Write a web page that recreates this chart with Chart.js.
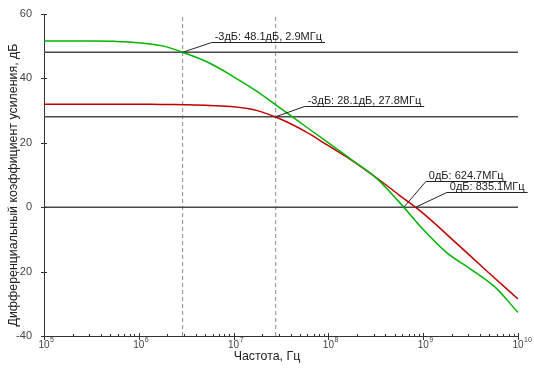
<!DOCTYPE html>
<html>
<head>
<meta charset="utf-8">
<script src="https://cdn.jsdelivr.net/npm/chart.js@4"></script>
<style>
  html, body { margin: 0; padding: 0; background: #fff; }
  #wrap { width: 534px; height: 374px; }
</style>
</head>
<body>
<div id="wrap"><canvas id="gain-chart" width="534" height="374"></canvas></div>
<script>
// Frequency points (Hz)
const freqHz = [1e5, 3.16e5, 5.62e5, 1e6, 1.78e6, 3.16e6, 5.62e6, 1e7, 1.78e7, 3.16e7, 5.62e7,
                1e8, 1.78e8, 3.16e8, 5.62e8, 1e9, 1.78e9, 3.16e9, 5.62e9, 1e10];
// Gain, dB (green curve)
const gainGreen = [51.6, 51.6, 51.5, 51.1, 50.1, 47.7, 44.7, 40.5, 35.9, 30.6, 25.3,
                   20.0, 14.6, 9.2, 1.5, -6.9, -14.2, -19.2, -24.6, -32.7];
// Gain, dB (red curve)
const gainRed = [32.0, 32.0, 32.0, 32.0, 31.9, 31.8, 31.6, 31.2, 30.0, 27.3, 23.6,
                 19.1, 14.5, 9.3, 3.7, -1.9, -8.5, -15.2, -21.9, -28.5];

// Horizontal reference levels, dB
const refLevels = [48.1, 28.1, 0];
// Marker points
const markerFreqs = [2.9e6, 27.8e6, 624.7e6, 835.1e6];
const markerGains = [48.1, 28.1, 0, 0];
const markerLabels = ['-3дБ: 48.1дБ, 2.9МГц', '-3дБ: 28.1дБ, 27.8МГц', '0дБ: 624.7МГц', '0дБ: 835.1МГц'];
const markerHasCursor = [true, true, false, false];

// Axis range and tick labels
const xMin = 1e5, xMax = 1e10;
const yMin = -40, yMax = 60;
const xTickPowers = [5, 6, 7, 8, 9, 10];
const yTickValues = [-40, -20, 0, 20, 40, 60];
const xTitle = 'Частота, Гц';
const yTitle = 'Дифференциальный коэффициент усиления, дБ';

// leader offsets for marker labels (px from the marker point)
const leaderOffsets = [[29, -10], [29, -11], [22, -26], [31, -15]];

const FONT = '"Liberation Sans", Arial, sans-serif';

function toPoints(xs, ys) {
  return xs.map((x, i) => ({ x: x, y: ys[i] }));
}

function buildDatasets() {
  const sets = [];
  sets.push({
    label: 'green', data: toPoints(freqHz, gainGreen),
    borderColor: '#00b400', borderWidth: 1.5, pointRadius: 0,
    tension: 0.35, order: 1
  });
  sets.push({
    label: 'red', data: toPoints(freqHz, gainRed),
    borderColor: '#c00000', borderWidth: 1.5, pointRadius: 0,
    tension: 0.35, order: 2
  });
  refLevels.forEach(level => {
    sets.push({
      label: 'ref', data: [{ x: xMin, y: level }, { x: xMax, y: level }],
      borderColor: '#4a4a4a', borderWidth: 1.5, pointRadius: 0, order: 3
    });
  });
  markerFreqs.forEach((f, i) => {
    if (!markerHasCursor[i]) return;
    sets.push({
      label: 'cursor', data: [{ x: f, y: yMin }, { x: f, y: yMax }],
      borderColor: '#8c8c8c', borderWidth: 1, borderDash: [4, 3], pointRadius: 0, order: 4
    });
  });
  return sets;
}

// Ticks, tick labels, titles and marker labels
const decor = {
  id: 'decor',
  afterDatasetsDraw(chart) {
    const { ctx, scales: { x, y } } = chart;
    ctx.save();

    // marker leaders and labels
    ctx.font = '11px ' + FONT;
    ctx.fillStyle = '#222';
    ctx.strokeStyle = '#222';
    ctx.lineWidth = 1;
    ctx.textBaseline = 'alphabetic';
    ctx.textAlign = 'left';
    markerLabels.forEach((label, i) => {
      const px = x.getPixelForValue(markerFreqs[i]);
      const py = y.getPixelForValue(markerGains[i]);
      const ex = px + leaderOffsets[i][0];
      const ey = Math.round(py + leaderOffsets[i][1]) + 0.5;
      const w = ctx.measureText(label).width;
      ctx.beginPath();
      ctx.moveTo(px, py);
      ctx.lineTo(ex, ey);
      ctx.lineTo(ex + w + 6, ey);
      ctx.stroke();
      ctx.fillText(label, ex + 3, ey - 3);
    });
    ctx.restore();
  },
  afterDraw(chart) {
    const { ctx, chartArea: a, scales: { x, y } } = chart;
    ctx.save();
    ctx.strokeStyle = '#333';
    ctx.lineWidth = 1;

    // x ticks: majors cross the axis, minors sit just above it
    ctx.beginPath();
    xTickPowers.forEach((p, i) => {
      const base = Math.pow(10, p);
      const px = Math.round(x.getPixelForValue(base)) + 0.5;
      ctx.moveTo(px, a.bottom - 3);
      ctx.lineTo(px, a.bottom + 4);
      if (i < xTickPowers.length - 1) {
        for (let m = 2; m <= 9; m++) {
          const mx = Math.round(x.getPixelForValue(m * base)) + 0.5;
          ctx.moveTo(mx, a.bottom - 2);
          ctx.lineTo(mx, a.bottom);
        }
      }
    });
    // y ticks
    yTickValues.forEach(v => {
      const py = Math.round(y.getPixelForValue(v)) + 0.5;
      ctx.moveTo(a.left - 3, py);
      ctx.lineTo(a.left + 3, py);
    });
    ctx.stroke();

    // x tick labels 10^n
    ctx.fillStyle = '#444';
    ctx.textBaseline = 'top';
    xTickPowers.forEach(p => {
      const px = x.getPixelForValue(Math.pow(10, p));
      ctx.font = '10px ' + FONT;
      ctx.textAlign = 'center';
      const w = ctx.measureText('10').width;
      ctx.fillText('10', px, a.bottom + 4);
      ctx.font = '7px ' + FONT;
      ctx.textAlign = 'left';
      ctx.fillText(String(p), px + w / 2 + 0.5, a.bottom + 1);
    });

    // axis titles, centred on the canvas
    ctx.fillStyle = '#222';
    ctx.font = '12.4px ' + FONT;
    ctx.textAlign = 'center';
    ctx.textBaseline = 'middle';
    ctx.fillText(xTitle, chart.width / 2, 357);
    ctx.translate(14, chart.height / 2 - 2);
    ctx.rotate(-Math.PI / 2);
    ctx.fillText(yTitle, 0, 0);
    ctx.restore();
  }
};

function initGainChart() {
  const ctx = document.getElementById('gain-chart').getContext('2d');
  new Chart(ctx, {
    type: 'line',
    data: { datasets: buildDatasets() },
    options: {
      responsive: false,
      animation: false,
      devicePixelRatio: 1,
      layout: { padding: { left: 0, right: 16, top: 14, bottom: 0 } },
      plugins: { legend: { display: false }, tooltip: { enabled: false } },
      scales: {
        x: {
          type: 'logarithmic', min: xMin, max: xMax,
          grid: { display: false },
          border: { display: true, color: '#333', width: 1 },
          ticks: { display: false },
          afterFit: s => { s.height = 38; }
        },
        y: {
          type: 'linear', min: yMin, max: yMax,
          grid: { display: false },
          border: { display: true, color: '#333', width: 1 },
          afterBuildTicks: s => { s.ticks = yTickValues.map(v => ({ value: v })); },
          ticks: { color: '#444', padding: 4, font: { family: FONT, size: 11 } },
          afterFit: s => { s.width = 44; }
        }
      }
    },
    plugins: [decor]
  });
}

document.addEventListener('DOMContentLoaded', initGainChart);
</script>
</body>
</html>
